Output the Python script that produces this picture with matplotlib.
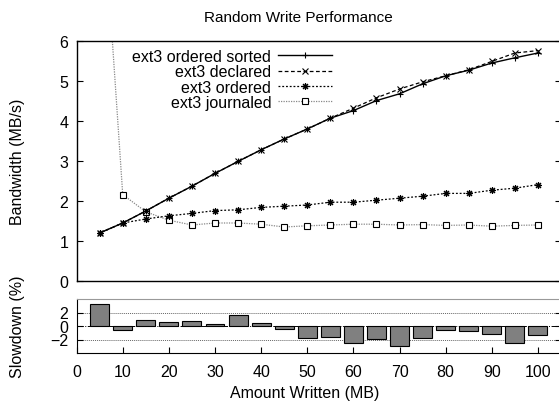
import matplotlib
matplotlib.use("Agg")
import matplotlib.pyplot as plt

plt.rcParams["font.family"] = ["Liberation Sans", "DejaVu Sans"]
plt.rcParams["font.size"] = 11.5

# Amount written (MB)
amount = [5, 10, 15, 20, 25, 30, 35, 40, 45, 50,
          55, 60, 65, 70, 75, 80, 85, 90, 95, 100]

# Bandwidth (MB/s)
ordered_sorted = [1.20, 1.45, 1.75, 2.07, 2.37, 2.69, 2.99, 3.28, 3.55, 3.80,
                  4.07, 4.26, 4.51, 4.68, 4.93, 5.13, 5.27, 5.45, 5.58, 5.70]
declared = [1.20, 1.45, 1.75, 2.07, 2.37, 2.69, 2.99, 3.28, 3.55, 3.80,
            4.07, 4.32, 4.58, 4.80, 4.98, 5.13, 5.28, 5.49, 5.70, 5.76]
ordered = [1.20, 1.45, 1.55, 1.63, 1.69, 1.76, 1.78, 1.84, 1.87, 1.90,
           1.97, 1.97, 2.02, 2.07, 2.12, 2.19, 2.19, 2.27, 2.32, 2.41]
journaled = [10.7, 2.16, 1.73, 1.52, 1.40, 1.45, 1.45, 1.42, 1.35, 1.38,
             1.40, 1.42, 1.42, 1.40, 1.41, 1.39, 1.40, 1.37, 1.39, 1.40]

# Slowdown (%)
slowdown = [3.3, -0.65, 0.83, 0.6, 0.8, 0.35, 1.67, 0.49, -0.45, -1.83,
            -1.63, -2.47, -1.98, -2.96, -1.78, -0.65, -0.74, -1.14, -2.47, -1.33]

fig = plt.figure(figsize=(5.59, 4.02), dpi=100)
W, H = 559.0, 402.0
x0, x1 = 76.6, 561.0
ax = fig.add_axes([x0 / W, 1 - 282 / H, (x1 - x0) / W, 240 / H])
axb = fig.add_axes([x0 / W, 1 - 354 / H, (x1 - x0) / W, 54 / H])

asterisk = (8, 2, 0)
ax.plot(amount, ordered_sorted, color="black", lw=1.0, ls="-",
        marker="+", ms=5, mew=0.8, label="ext3 ordered sorted", zorder=4)
ax.plot(amount, declared, color="black", lw=0.9, ls=(0, (3, 2)),
        marker="x", ms=4, mew=0.8, label="ext3 declared", zorder=3)
ax.plot(amount, ordered, color="black", lw=0.9, ls=(0, (1.5, 1.5)),
        marker=asterisk, ms=5, mew=0.8, label="ext3 ordered", zorder=3)
ax.plot(amount, journaled, color="#888888", lw=0.9, ls=(0, (1, 1)),
        marker="s", ms=4.5, mfc="white", mec="black", mew=0.8,
        label="ext3 journaled", zorder=2)

ax.set_xlim(0, 105)
ax.set_ylim(0, 6)
ax.set_yticks(range(0, 7))
ax.set_xticks([])
ax.tick_params(axis="y", direction="in", right=True, length=4, pad=6)
for s in ax.spines.values():
    s.set_linewidth(1.0)

leg = ax.legend(loc="upper right", bbox_to_anchor=(332 / W, 1 - 50 / H),
                bbox_transform=fig.transFigure, frameon=False,
                markerfirst=False, handlelength=3.4, labelspacing=0.02,
                handletextpad=0.4, borderaxespad=0, borderpad=0)
for t in leg.get_texts():
    t.set_ha("right")

# Slowdown panel
axb.bar(amount, slowdown, width=4.1, color="#808080", edgecolor="black",
        lw=0.8, zorder=3)
axb.axhline(0, color="black", lw=0.7, ls="-.", zorder=2)
for v in (2, -2):
    axb.axhline(v, color="#666666", lw=0.7, ls=(0, (1, 1)), zorder=1)
axb.set_xlim(0, 105)
axb.set_ylim(-4, 4)
axb.set_yticks([2, 0, -2])
axb.set_xticks(range(0, 101, 10))
axb.tick_params(axis="both", direction="in", length=4, pad=6)
axb.tick_params(axis="y", right=True)
axb.tick_params(axis="x", pad=8)
axb.spines["top"].set_color("#999999")

fig.text(298 / W, 1 - 18 / H, "Random Write Performance",
         ha="center", va="center", fontsize=11)
fig.text(305 / W, 1 - 394 / H, "Amount Written (MB)", ha="center", va="center")
fig.text(18 / W, 1 - 162 / H, "Bandwidth (MB/s)", rotation=90,
         ha="center", va="center")
fig.text(18 / W, 1 - 327 / H, "Slowdown (%)", rotation=90,
         ha="center", va="center")

fig.savefig("out.png", dpi=100, facecolor="white")
